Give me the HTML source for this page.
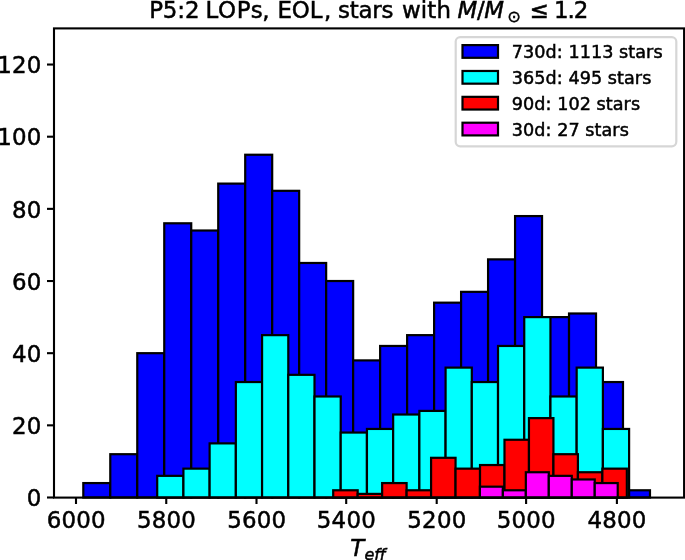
<!DOCTYPE html>
<html lang="en">
<head>
<meta charset="utf-8">
<title>P5:2 LOPs, EOL histogram</title>
<style>
html,body{margin:0;padding:0;background:#fff;}
body{width:685px;height:560px;overflow:hidden;}
svg{display:block;}
text{font-family:"DejaVu Sans","Liberation Sans",sans-serif;fill:#000;stroke:#000;stroke-width:0.5px;}
.it{font-style:italic;}
</style>
</head>
<body>
<svg width="685" height="560" viewBox="0 0 685 560">
<rect x="0" y="0" width="685" height="560" fill="#ffffff"/>

<g fill="#0000ff" stroke="#000" stroke-width="2.2" stroke-linejoin="miter">
<rect x="83.30" y="483.07" width="26.98" height="14.43"/>
<rect x="110.28" y="454.20" width="26.98" height="43.30"/>
<rect x="137.27" y="353.18" width="26.98" height="144.32"/>
<rect x="164.25" y="223.29" width="26.98" height="274.21"/>
<rect x="191.24" y="230.51" width="26.98" height="266.99"/>
<rect x="218.23" y="183.60" width="26.98" height="313.90"/>
<rect x="245.21" y="154.74" width="26.98" height="342.76"/>
<rect x="272.19" y="190.82" width="26.98" height="306.68"/>
<rect x="299.18" y="262.98" width="26.98" height="234.52"/>
<rect x="326.17" y="281.02" width="26.98" height="216.48"/>
<rect x="353.15" y="360.40" width="26.98" height="137.10"/>
<rect x="380.13" y="345.96" width="26.98" height="151.54"/>
<rect x="407.12" y="335.14" width="26.98" height="162.36"/>
<rect x="434.11" y="302.67" width="26.98" height="194.83"/>
<rect x="461.09" y="291.84" width="26.98" height="205.66"/>
<rect x="488.07" y="259.37" width="26.98" height="238.13"/>
<rect x="515.06" y="216.08" width="26.98" height="281.42"/>
<rect x="542.04" y="317.10" width="26.98" height="180.40"/>
<rect x="569.03" y="313.49" width="26.98" height="184.01"/>
<rect x="596.01" y="382.04" width="26.98" height="115.46"/>
<rect x="623.00" y="490.28" width="26.98" height="7.22"/>
</g>
<g fill="#00ffff" stroke="#000" stroke-width="2.2" stroke-linejoin="miter">
<rect x="157.20" y="475.85" width="26.22" height="21.65"/>
<rect x="183.42" y="468.64" width="26.22" height="28.86"/>
<rect x="209.63" y="443.38" width="26.22" height="54.12"/>
<rect x="235.85" y="382.04" width="26.22" height="115.46"/>
<rect x="262.07" y="335.14" width="26.22" height="162.36"/>
<rect x="288.28" y="374.83" width="26.22" height="122.67"/>
<rect x="314.50" y="396.48" width="26.22" height="101.02"/>
<rect x="340.72" y="432.56" width="26.22" height="64.94"/>
<rect x="366.94" y="428.95" width="26.22" height="68.55"/>
<rect x="393.15" y="414.52" width="26.22" height="82.98"/>
<rect x="419.37" y="410.91" width="26.22" height="86.59"/>
<rect x="445.59" y="367.61" width="26.22" height="129.89"/>
<rect x="471.80" y="382.04" width="26.22" height="115.46"/>
<rect x="498.02" y="345.96" width="26.22" height="151.54"/>
<rect x="524.24" y="317.10" width="26.22" height="180.40"/>
<rect x="550.45" y="396.48" width="26.22" height="101.02"/>
<rect x="576.67" y="367.61" width="26.22" height="129.89"/>
<rect x="602.89" y="428.95" width="26.22" height="68.55"/>
</g>
<g fill="#ff0000" stroke="#000" stroke-width="2.2" stroke-linejoin="miter">
<rect x="333.20" y="490.28" width="24.47" height="7.22"/>
<rect x="357.67" y="493.89" width="24.47" height="3.61"/>
<rect x="382.14" y="483.07" width="24.47" height="14.43"/>
<rect x="406.61" y="490.28" width="24.47" height="7.22"/>
<rect x="431.08" y="457.81" width="24.47" height="39.69"/>
<rect x="455.55" y="468.64" width="24.47" height="28.86"/>
<rect x="480.02" y="465.03" width="24.47" height="32.47"/>
<rect x="504.49" y="439.77" width="24.47" height="57.73"/>
<rect x="528.96" y="418.12" width="24.47" height="79.38"/>
<rect x="553.43" y="454.20" width="24.47" height="43.30"/>
<rect x="577.90" y="472.24" width="24.47" height="25.26"/>
<rect x="602.37" y="468.64" width="24.47" height="28.86"/>
</g>
<g fill="#ff00ff" stroke="#000" stroke-width="2.2" stroke-linejoin="miter">
<rect x="479.90" y="486.68" width="22.97" height="10.82"/>
<rect x="502.87" y="490.28" width="22.97" height="7.22"/>
<rect x="525.84" y="472.24" width="22.97" height="25.26"/>
<rect x="548.81" y="475.85" width="22.97" height="21.65"/>
<rect x="571.78" y="479.46" width="22.97" height="18.04"/>
<rect x="594.75" y="483.07" width="22.97" height="14.43"/>
</g>
<rect x="54.0" y="28.4" width="630.10" height="469.20000000000005" fill="none" stroke="#000" stroke-width="2.1"/>
<g stroke="#000" stroke-width="2.1">
<line x1="76.0" y1="497.6" x2="76.0" y2="504.0"/>
<line x1="166.25" y1="497.6" x2="166.25" y2="504.0"/>
<line x1="256.5" y1="497.6" x2="256.5" y2="504.0"/>
<line x1="346.2" y1="497.6" x2="346.2" y2="504.0"/>
<line x1="436.7" y1="497.6" x2="436.7" y2="504.0"/>
<line x1="526.1" y1="497.6" x2="526.1" y2="504.0"/>
<line x1="616.9" y1="497.6" x2="616.9" y2="504.0"/>
<line x1="54.0" y1="497.50" x2="47.0" y2="497.50"/>
<line x1="54.0" y1="425.34" x2="47.0" y2="425.34"/>
<line x1="54.0" y1="353.18" x2="47.0" y2="353.18"/>
<line x1="54.0" y1="281.02" x2="47.0" y2="281.02"/>
<line x1="54.0" y1="208.86" x2="47.0" y2="208.86"/>
<line x1="54.0" y1="136.70" x2="47.0" y2="136.70"/>
<line x1="54.0" y1="64.54" x2="47.0" y2="64.54"/>
</g>
<g font-size="22.9px" text-anchor="middle" letter-spacing="0.2px">
<text x="76.2" y="527.7">6000</text>
<text x="166.45" y="527.7">5800</text>
<text x="256.7" y="527.7">5600</text>
<text x="346.4" y="527.7">5400</text>
<text x="436.9" y="527.7">5200</text>
<text x="526.3000000000001" y="527.7">5000</text>
<text x="617.1" y="527.7">4800</text>
</g>
<g font-size="22.9px" text-anchor="end" letter-spacing="0.2px">
<text x="41.5" y="506.20">0</text>
<text x="41.5" y="434.04">20</text>
<text x="41.5" y="361.88">40</text>
<text x="41.5" y="289.72">60</text>
<text x="41.5" y="217.56">80</text>
<text x="41.5" y="145.40">100</text>
<text x="41.5" y="73.24">120</text>
</g>
<g font-size="22.9px">
<text x="149.2" y="17.5" letter-spacing="-0.12px">P5:2</text>
<text x="205.6" y="17.5" letter-spacing="0.56px">LOPs</text>
<text x="262.2" y="17.5" letter-spacing="0px">,</text>
<text x="277.4" y="17.5" letter-spacing="-0.12px">EOL</text>
<text x="323.9" y="17.5" letter-spacing="0px">,</text>
<text x="338.0" y="17.5" letter-spacing="-0.225px">stars</text>
<text x="402.0" y="17.5" letter-spacing="0.12px">with</text>
<text x="457.5" y="17.5" letter-spacing="-0.36px"><tspan class="it">M</tspan>/<tspan class="it">M</tspan></text>
<text x="507.3" y="21.5" font-size="16px">⊙</text>
<text x="529.4" y="17.5">≤</text>
<text x="554.0" y="17.5" letter-spacing="-1.08px">1.2</text>
</g>
<text x="350.2" y="556.2" font-size="22.9px" class="it">T<tspan font-size="16px" dy="3.8" dx="0.2">eff</tspan></text>
<rect x="455.7" y="37.1" width="220.60" height="109.20" rx="4.5" ry="4.5" fill="#ffffff" fill-opacity="0.8" stroke="#cccccc" stroke-opacity="0.8" stroke-width="2.2"/>
<rect x="462.5" y="45.10" width="35.5" height="12.7" fill="#0000ff" stroke="#000" stroke-width="2.2"/>
<text x="511.8" y="58.30" font-size="17.6px" letter-spacing="0.06px">730d: 1113 stars</text>
<rect x="462.5" y="70.97" width="35.5" height="12.7" fill="#00ffff" stroke="#000" stroke-width="2.2"/>
<text x="511.8" y="84.17" font-size="17.6px" letter-spacing="0.06px">365d: 495 stars</text>
<rect x="462.5" y="96.84" width="35.5" height="12.7" fill="#ff0000" stroke="#000" stroke-width="2.2"/>
<text x="511.8" y="110.04" font-size="17.6px" letter-spacing="0.06px">90d: 102 stars</text>
<rect x="462.5" y="122.71" width="35.5" height="12.7" fill="#ff00ff" stroke="#000" stroke-width="2.2"/>
<text x="511.8" y="135.91" font-size="17.6px" letter-spacing="0.06px">30d: 27 stars</text>
</svg>
</body>
</html>
